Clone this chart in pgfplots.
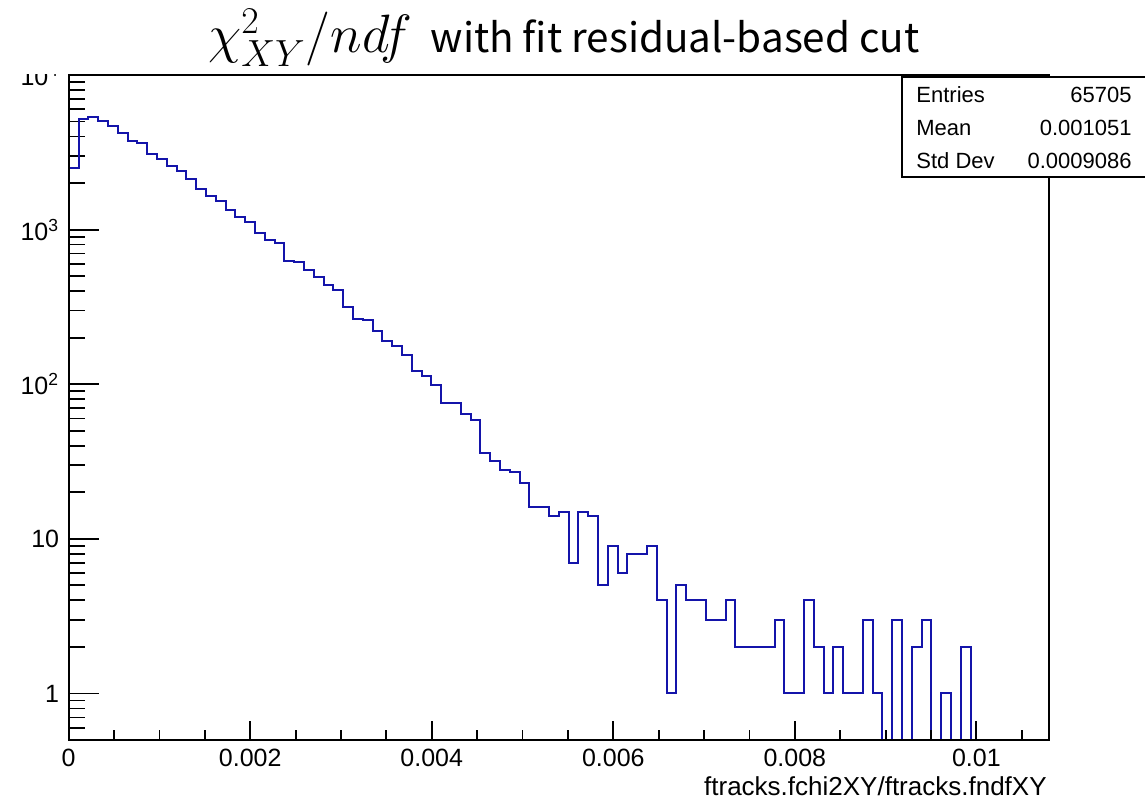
\documentclass[border=0pt]{standalone}
\usepackage{fix-cm}
\usepackage{fontspec}
\setmainfont{Liberation Sans}
\newfontfamily\titlefont{Noto Sans CJK KR}
\usepackage{pgfplots}
\pgfplotsset{compat=1.18}
\usepackage{pgfplotstable}

\definecolor{histblue}{RGB}{20,20,170}

% 100 bins of width 0.000108: left edge, entries (last row closes the outline)
\pgfplotstableread{
x n
0.000000 2500
0.000108 5180
0.000216 5330
0.000324 5050
0.000432 4690
0.000540 4230
0.000648 3770
0.000756 3620
0.000864 3080
0.000972 2870
0.001080 2560
0.001188 2380
0.001296 2140
0.001404 1830
0.001512 1650
0.001620 1540
0.001728 1345
0.001836 1213
0.001944 1115
0.002052 957
0.002160 862
0.002268 820
0.002376 631
0.002484 615
0.002592 549
0.002700 496
0.002808 438
0.002916 404
0.003024 317
0.003132 266
0.003240 259
0.003348 222
0.003456 189
0.003564 176
0.003672 154
0.003780 122
0.003888 113
0.003996 99
0.004104 76
0.004212 76
0.004320 64
0.004428 59
0.004536 36
0.004644 32
0.004752 28
0.004860 27
0.004968 23
0.005076 16
0.005184 16
0.005292 14
0.005400 15
0.005508 7
0.005616 15
0.005724 14
0.005832 5
0.005940 9
0.006048 6
0.006156 8
0.006264 8
0.006372 9
0.006480 4
0.006588 1
0.006696 5
0.006804 4
0.006912 4
0.007020 3
0.007128 3
0.007236 4
0.007344 2
0.007452 2
0.007560 2
0.007668 2
0.007776 3
0.007884 1
0.007992 1
0.008100 4
0.008208 2
0.008316 1
0.008424 2
0.008532 1
0.008640 1
0.008748 3
0.008856 1
0.008964 0
0.009072 3
0.009180 0
0.009288 2
0.009396 3
0.009504 0
0.009612 1
0.009720 0
0.009828 2
0.009936 0
0.010044 0
0.010152 0
0.010260 0
0.010368 0
0.010476 0
0.010584 0
0.010692 0
0.010800 0
}\histdata

\pgfplotsset{
  histframe/.style={
    at={(34.35pt,29pt)}, anchor=south west,
    width=490.15pt, height=332.5pt, scale only axis,
    xmin=0, xmax=0.0108, ymin=0.5, ymax=10000,
    axis line style={line width=0.9pt},
    tick align=inside,
    xtick pos=bottom, ytick pos=left,
    tick style={line width=0.9pt, black},
    /pgf/number format/assume math mode=true,
    ticklabel style={font=\fontsize{12.5}{15}\selectfont},
  },
}

\begin{document}
\begin{tikzpicture}
\useasboundingbox (0,0) rectangle (572.5pt,399pt);

% y axis (log) and the histogram
\begin{axis}[
  ymode=log,
  histframe,
  xtick=\empty,
  ytick={1,10,100,1000,10000},
  yticklabels={1,10,10\textsuperscript{2},10\textsuperscript{3},10\textsuperscript{4}},
  minor ytick={0.6,0.7,0.8,0.9,2,3,4,5,6,7,8,9,20,30,40,50,60,70,80,90,200,300,400,500,600,700,800,900,2000,3000,4000,5000,6000,7000,8000,9000},
  major tick length=15pt, minor tick length=8.3pt,
  yticklabel style={anchor=east, inner sep=0pt, xshift=-4.6pt},
]
\addplot[const plot mark left, histblue, line width=1pt]
  table[x=x, y expr={max(\thisrow{n},0.05)}] {\histdata};
\end{axis}

% x axis ticks and labels
\begin{axis}[
  ymode=log,
  histframe,
  ytick=\empty,
  scaled x ticks=false,
  xtick={0,0.002,0.004,0.006,0.008,0.01},
  xticklabels={0,0.002,0.004,0.006,0.008,0.01},
  minor xtick={0.0005,0.001,0.0015,0.0025,0.003,0.0035,0.0045,0.005,0.0055,0.0065,0.007,0.0075,0.0085,0.009,0.0095,0.0105},
  major tick length=9.5pt, minor tick length=5pt,
  xticklabel style={inner sep=0pt, yshift=-4.5pt},
]
\end{axis}

% title box hides the top of the uppermost tick label
\fill[white] (0,362pt) rectangle (33pt,399pt);
\node[anchor=base, font=\titlefont\fontsize{20.2}{24}\selectfont] at (282pt,372.5pt)
  {{\fontsize{27}{29}\selectfont$\chi^{2}_{XY}/ndf$}\ \ with fit residual-based cut};

\node[anchor=base east, inner sep=0pt, font=\fontsize{13}{15}\selectfont] at (523.5pt,1.5pt)
  {ftracks.fchi2XY/ftracks.fndfXY};

% statistics box
\draw[line width=0.9pt, fill=white] (451pt,310.65pt) rectangle (575pt,360.65pt);
\begin{scope}[every node/.style={inner sep=0pt, font=\fontsize{11}{13}\selectfont}]
  \node[anchor=base west] at (458pt,347.5pt) {Entries};
  \node[anchor=base east] at (566pt,347.5pt) {65705};
  \node[anchor=base west] at (458pt,331pt) {Mean};
  \node[anchor=base east] at (566pt,331pt) {0.001051};
  \node[anchor=base west] at (458pt,314.5pt) {Std Dev};
  \node[anchor=base east] at (566pt,314.5pt) {0.0009086};
\end{scope}
\end{tikzpicture}
\end{document}
